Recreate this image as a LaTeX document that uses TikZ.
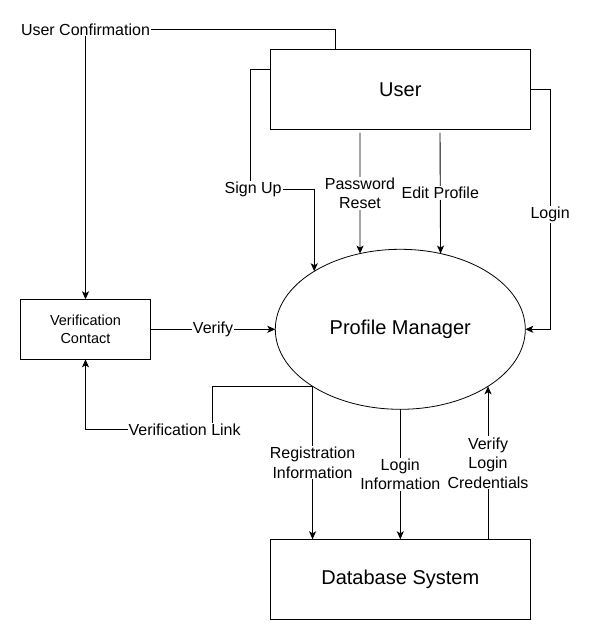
\documentclass[tikz,border=0pt]{standalone}
\usepackage{fontspec}
\setmainfont{Liberation Sans}
\usetikzlibrary{positioning,shapes.geometric,arrows.meta}
\tikzstyle{diagram} = [x = 1pt, y = -1pt]
\tikzstyle{entityStyle} = [draw, line width=1.1pt, minimum width=260.4pt, minimum height=80pt, inner sep=0pt, outer sep=0pt, font=\fontsize{20}{24}\selectfont]
\tikzstyle{processStyle} = [ellipse, draw, line width=0.8pt, minimum width=250pt, minimum height=160pt, inner sep=0pt, outer sep=0pt, font=\fontsize{20}{24}\selectfont]
\tikzstyle{contactStyle} = [draw, line width=1.1pt, minimum width=130.4pt, minimum height=60pt, inner sep=0pt, outer sep=0pt, align=center, font=\fontsize{14.5}{18}\selectfont]
\tikzstyle{flowLine} = [line width=0.9pt, -{Stealth[length=8pt,width=7pt,inset=2pt]}]
\tikzstyle{flowLabel} = [fill=white, inner sep=1pt, align=center, font=\fontsize{16}{19.5}\selectfont]
\newcommand{\gapDown}{-3.4pt}

\begin{document}
\begin{tikzpicture}[diagram]
  \useasboundingbox (0,0) rectangle (590,640);

  % entities and process
  \node [entityStyle] (user) at (400.3,89.3) {User};
  \node [processStyle] (pm) at (400.3,329.3) {Profile Manager};
  \node [entityStyle] (db) at (400.3,579.3) {Database System};
  \node [contactStyle] (vc) at (85.5,329.3) {Verification\\Contact};

  % user side
  \draw [flowLine] ([xshift=65.2pt]user.north west) -- ++(0,-20) -| node [flowLabel, pos=.5] {User Confirmation} (vc.north);
  \draw [flowLine] ([yshift=20pt]user.west) -- ++(-19.4,0) -- ++(0,120) node [flowLabel, xshift=2.5pt] {Sign Up} -| (pm.146.9);
  \draw [flowLine] ([xshift=-40.3pt, yshift=\gapDown]user.south) -- node [flowLabel] {Password\\Reset} (pm.118);
  \draw [flowLine] ([xshift=39.7pt, yshift=\gapDown]user.south) -- node [flowLabel] {Edit Profile} (pm.62.4);
  \draw [flowLine] (user.east) -- ++(19.6,0) |- node [flowLabel, pos=.26] {Login} (pm.east);

  % verification
  \draw [flowLine] (vc.east) -- node [flowLabel] {Verify} (pm.west);
  \draw [flowLine] (pm.213.1) -- ++(-100,0) -- ++(0,43.6) -| node [flowLabel, pos=.11] {Verification Link} (vc.south);

  % database
  \draw [flowLine] (pm.213.1) -- node [flowLabel] {Registration\\Information} (pm.213.1 |- db.north);
  \draw [flowLine] (pm.south) -- node [flowLabel] {Login\\Information} (db.north);
  \draw [flowLine] (db.north -| pm.327.7) -- node [flowLabel] {Verify\\Login\\Credentials} (pm.327.7);
\end{tikzpicture}
\end{document}
